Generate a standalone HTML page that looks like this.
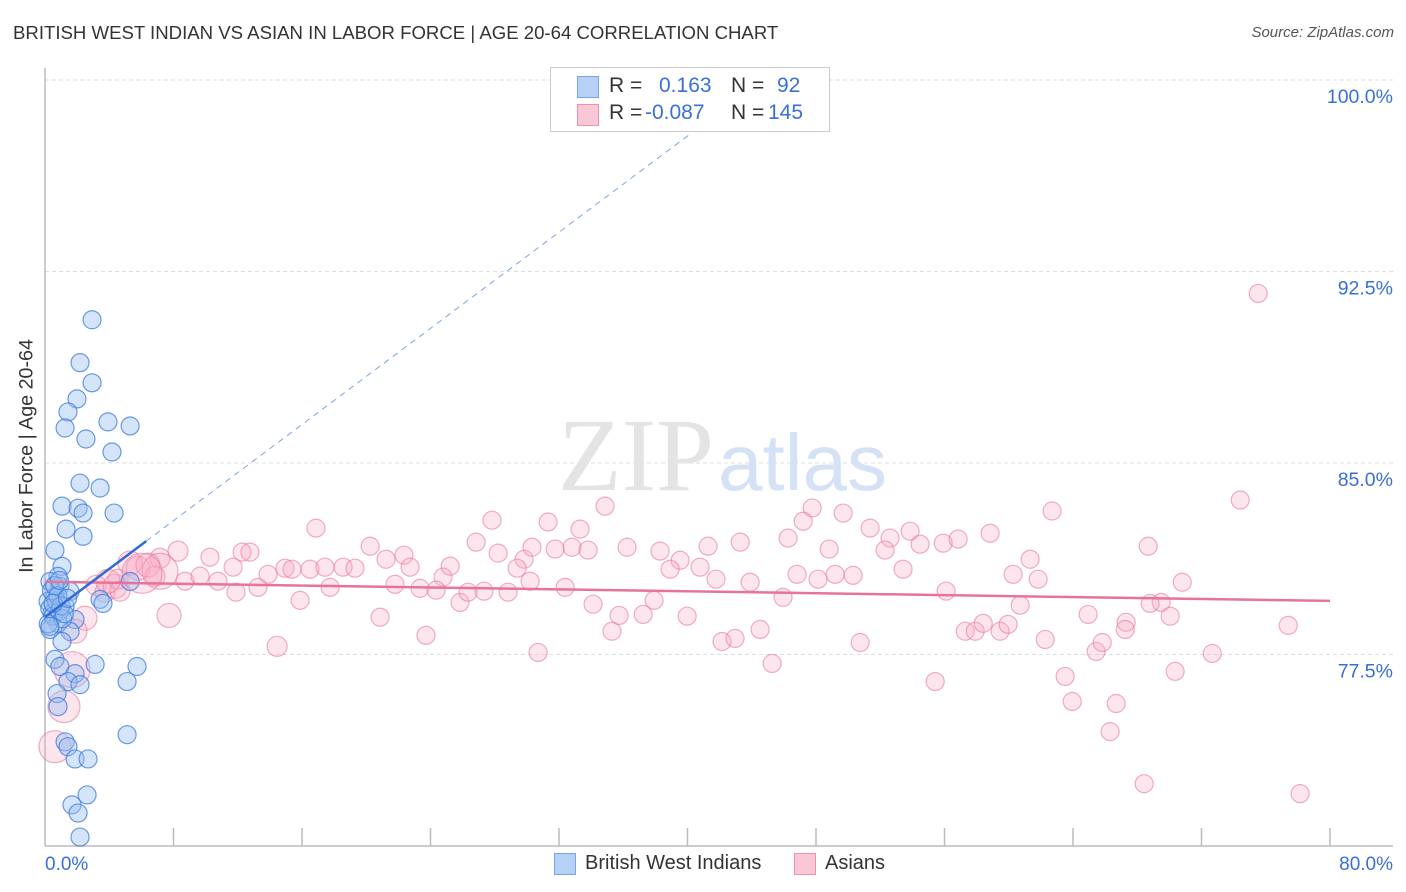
<!DOCTYPE html>
<html><head><meta charset="utf-8">
<style>
body{margin:0;background:#fff;font-family:"Liberation Sans",sans-serif;}
#wrap{position:relative;width:1406px;height:892px;overflow:hidden;}
.t{position:absolute;white-space:nowrap;}
</style></head>
<body>
<div id="wrap">
<div class="t" style="left:13px;top:22px;font-size:18.6px;color:#333;">BRITISH WEST INDIAN VS ASIAN IN LABOR FORCE | AGE 20-64 CORRELATION CHART</div>
<div class="t" style="right:12px;top:24px;font-size:15px;color:#555;font-style:italic;">Source: ZipAtlas.com</div>
<div class="t" style="left:27px;top:456px;font-size:19.7px;color:#333;transform:translate(-50%,-50%) rotate(-90deg);">In Labor Force | Age 20-64</div>
<svg id="plot" width="1406" height="892" style="position:absolute;left:0;top:0"></svg>
<div style="position:absolute;left:550px;top:67px;width:278px;height:63px;border:1px solid #ccc;background:#fff;font-size:21px;">
 <div style="position:absolute;left:26px;top:8px;width:20px;height:20px;background:#b7d0f5;border:1px solid #7aa4e6;"></div>
 <div class="t" style="left:58px;top:6px;color:#333">R =</div>
 <div class="t" style="left:108px;top:6px;color:#3a6fd8">0.163</div>
 <div class="t" style="left:180px;top:6px;color:#333">N =</div>
 <div class="t" style="left:226px;top:6px;color:#3a6fd8">92</div>
 <div style="position:absolute;left:26px;top:36px;width:20px;height:20px;background:#f9c7d6;border:1px solid #eb93ae;"></div>
 <div class="t" style="left:58px;top:33px;color:#333">R =</div>
 <div class="t" style="left:94px;top:33px;color:#3a6fd8">-0.087</div>
 <div class="t" style="left:180px;top:33px;color:#333">N =</div>
 <div class="t" style="left:217px;top:33px;color:#3a6fd8">145</div>
</div>
<div style="position:absolute;left:554px;top:853px;width:20px;height:20px;background:#b7d0f5;border:1px solid #7aa4e6;"></div>
<div class="t" style="left:585px;top:852px;font-size:20px;color:#333;">British West Indians</div>
<div style="position:absolute;left:794px;top:853px;width:20px;height:20px;background:#f9c7d6;border:1px solid #eb93ae;"></div>
<div class="t" style="left:825px;top:852px;font-size:20px;color:#333;">Asians</div>
</div>
<script>
const yTicks=[100,92.5,85,77.5];
const xTickLabels=["0.0%","80.0%"];
const blueX=[2.93,2.18,2.93,1.99,1.43,1.25,2.55,3.92,5.30,4.17,2.18,3.43,1.06,2.06,2.37,4.30,1.31,2.37,0.62,1.06,0.81,0.31,0.93,1.56,0.62,0.19,1.25,0.44,1.87,0.81,0.31,1.56,3.43,3.61,5.30,1.06,0.62,0.93,1.87,3.12,5.73,5.11,1.43,2.18,0.75,0.81,1.25,1.43,1.87,2.68,2.62,1.68,2.06,2.18,5.11,0.3,0.5,0.7,0.9,1.1,0.4,0.6,0.2,0.8,1.0,1.2,0.3,0.5,1.4,0.9];
const blueY=[90.61,88.93,88.14,87.51,87.0,86.37,85.94,86.61,86.45,85.43,84.21,84.02,83.31,83.23,83.04,83.04,82.41,82.13,81.58,80.95,80.56,80.36,80.17,79.97,79.78,79.58,79.38,79.11,78.87,78.72,78.48,78.40,79.66,79.50,80.36,78.01,77.31,77.03,76.75,77.11,77.03,76.44,76.44,76.32,75.97,75.46,74.08,73.89,73.41,73.41,72.0,71.61,71.29,70.35,74.36,79.3,79.0,79.6,79.2,78.9,80.0,80.2,78.7,79.8,79.4,79.1,78.6,79.5,79.7,80.4];
const pinkX=[75.53,74.41,34.87,27.83,31.32,47.76,49.69,62.70,33.31,16.87,26.84,28.21,29.83,30.32,31.76,32.81,33.81,36.24,38.29,39.54,41.28,43.28,46.26,47.20,48.82,51.37,52.61,53.86,54.48,55.92,56.85,58.84,68.68,61.33,60.27,61.83,70.80,69.49,64.94,70.05,60.71,77.40,67.31,8.28,7.16,10.27,12.27,12.76,11.71,8.72,9.65,10.77,11.89,13.26,13.89,14.94,15.38,16.50,17.43,18.56,19.30,20.24,21.23,22.35,22.73,24.78,25.22,21.79,23.35,24.35,25.84,26.34,27.33,28.83,29.39,30.20,32.38,34.12,35.30,35.74,37.24,37.92,38.92,39.98,40.78,41.78,42.15,42.96,43.90,44.52,45.27,45.95,46.82,48.13,49.19,50.31,50.75,52.30,53.42,55.42,56.10,57.29,57.91,58.41,59.46,59.96,62.27,63.51,63.95,65.44,65.82,66.31,66.69,68.43,68.80,70.36,72.67,78.14,67.25,15.88,17.75,20.86,23.72,30.70,14.45,7.72,3.18,3.74,4.36,4.55,5.29,5.79,6.41,6.85,4.67,3.92,2.49,1.87,1.68,1.18,0.62,7.16,6.04];
const pinkY=[91.64,83.55,83.31,82.76,82.69,83.24,83.04,83.12,82.41,82.45,81.90,81.47,81.23,81.70,81.63,81.70,81.59,81.70,81.55,81.19,81.74,81.90,82.06,82.72,81.63,82.45,82.06,82.33,81.82,81.86,82.02,82.25,81.74,81.23,80.64,80.45,80.33,79.54,79.07,79.0,79.43,78.64,78.76,81.55,81.27,81.31,81.51,81.51,80.92,80.37,80.57,80.37,79.94,80.13,80.64,80.88,80.84,80.84,80.92,80.92,80.88,81.74,81.23,81.39,80.92,80.53,80.96,80.25,80.09,80.02,79.54,79.94,79.98,79.94,80.88,80.37,80.13,79.47,78.41,79.03,79.07,79.62,80.84,79.0,80.92,80.45,78.01,78.13,80.33,78.48,77.15,79.74,80.64,80.45,80.64,80.60,77.97,81.59,80.84,76.44,79.98,78.41,78.41,78.72,78.41,78.68,78.09,76.64,75.66,77.62,77.97,74.48,75.58,72.44,79.50,76.84,77.54,72.05,78.48,79.62,80.13,78.96,78.25,77.58,77.82,79.03,80.21,79.94,80.17,80.45,81.08,80.88,81.00,80.57,79.98,80.37,78.92,78.41,76.91,75.46,73.89,80.76,80.68];
const pinkSize=[9,9,9,9,9,9,9,9,9,9,9,9,9,9,9,9,9,9,9,9,9,9,9,9,9,9,9,9,9,9,9,9,9,9,9,9,9,9,9,9,9,9,9,10,10,9,9,9,9,9,9,9,9,9,9,9,9,9,9,9,9,9,9,9,9,9,9,9,9,9,9,9,9,9,9,9,9,9,9,9,9,9,9,9,9,9,9,9,9,9,9,9,9,9,9,9,9,9,9,9,9,9,9,9,9,9,9,9,9,9,9,9,9,9,9,9,9,9,9,9,9,9,9,9,10,12,10,10,12,10,12,12,12,10,10,12,12,12,18,16,16,18,20,12,12];
const blueLine=[0,78.97,6.3,81.94];
const blueDash=[6.3,81.94,40.2,97.9];
const pinkLine=[0,80.35,80,79.6];
const X0=45,X1=1330,Y0=846,Y1=80;
const sx=v=>X0+(v/80)*(X1-X0);
const sy=v=>Y0-(v-70)/30*(Y0-Y1);
const svg=document.getElementById('plot');
const NS='http://www.w3.org/2000/svg';
function mk(tag,attrs){const e=document.createElementNS(NS,tag);for(const k in attrs)e.setAttribute(k,attrs[k]);svg.appendChild(e);return e;}
yTicks.forEach(v=>{
 const g=mk('line',{x1:X0,x2:1393,y1:sy(v),y2:sy(v),stroke:'#ddd','stroke-dasharray':'4,3'});
 
 
 const t=mk('text',{x:1393,y:sy(v)+23,'text-anchor':'end','font-size':19.5,fill:'#3a6fd8','font-family':'Liberation Sans, sans-serif'});
 t.textContent=v.toFixed(1)+'%';
 
 
});
const wm=mk('text',{x:714,y:490,'text-anchor':'end','font-size':104,fill:'#e4e4e4','font-family':'Liberation Serif, serif'});wm.textContent='ZIP';


const wm2=mk('text',{x:718,y:490,'font-size':80,fill:'#d5e2f5','font-family':'Liberation Sans, sans-serif'});wm2.textContent='atlas';


mk('line',{x1:X0,x2:X0,y1:68,y2:Y0,stroke:'#bbb','stroke-width':1.5});
mk('line',{x1:X0,x2:1393,y1:Y0,y2:Y0,stroke:'#bbb','stroke-width':1.5});
for(let i=1;i<=10;i++){const x=sx(i*8);mk('line',{x1:x,x2:x,y1:828,y2:Y0,stroke:'#bbb','stroke-width':1.5});}
const xl=[[0,'start',45],[80,'end',1393]];
xl.forEach((d,i)=>{const t=mk('text',{x:d[2],y:870,'text-anchor':d[1],'font-size':19,fill:'#3a6fd8','font-family':'Liberation Sans, sans-serif'});t.textContent=xTickLabels[i];

});
pinkX.forEach((v,i)=>{const c=mk('circle',{cx:sx(v),cy:sy(pinkY[i]),r:pinkSize[i],fill:'rgba(247,170,195,0.3)',stroke:'rgba(230,120,155,0.6)','stroke-width':1.2});

});
blueX.forEach((v,i)=>{const c=mk('circle',{cx:sx(v),cy:sy(blueY[i]),r:9,fill:'rgba(150,190,240,0.4)',stroke:'rgba(60,120,220,0.75)','stroke-width':1.2});

});
const pl=mk('line',{x1:sx(pinkLine[0]),y1:sy(pinkLine[1]),x2:sx(pinkLine[2]),y2:sy(pinkLine[3]),stroke:'#e8739a','stroke-width':2.5});


const bd=mk('line',{x1:sx(blueDash[0]),y1:sy(blueDash[1]),x2:sx(blueDash[2]),y2:sy(blueDash[3]),stroke:'#7aa4e6','stroke-width':1,'stroke-dasharray':'6,5'});


const bl=mk('line',{x1:sx(blueLine[0]),y1:sy(blueLine[1]),x2:sx(blueLine[2]),y2:sy(blueLine[3]),stroke:'#2f6ad6','stroke-width':2.5});


</script>
</body></html>
